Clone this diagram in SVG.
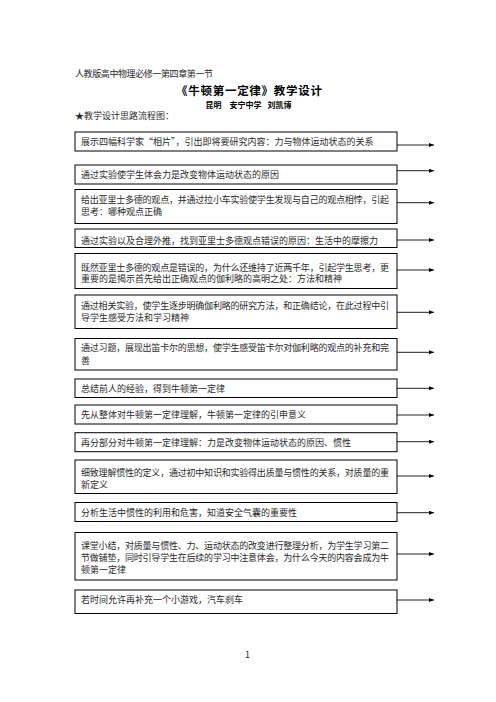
<svg xmlns="http://www.w3.org/2000/svg" width="496" height="702" viewBox="0 0 496 702">
<defs>
<style>
.t{font-family:"Noto Sans CJK SC","Liberation Serif",serif;font-size:9px;fill:#2a2a2a}
.a{font-family:"Noto Sans CJK SC",sans-serif;font-size:8px;font-weight:bold;fill:#000}
.b{fill:#fff;stroke:#000;stroke-width:1}
.c line{stroke:#222;stroke-width:1}
</style>
<marker id="ah" markerUnits="userSpaceOnUse" markerWidth="6" markerHeight="5" refX="5" refY="2" orient="auto"><path d="M0,0L5,2L0,4z" fill="#000"/></marker>
</defs>
<rect width="496" height="702" fill="#fff"/>
<g id="header">
<text class="t" x="75" y="77" font-size="8.7" textLength="138" lengthAdjust="spacing">人教版高中物理必修一第四章第一节</text>
<text x="249" y="94.5" text-anchor="middle" font-family="'Noto Sans CJK SC',sans-serif" font-size="11.5" font-weight="bold" fill="#000" textLength="146" lengthAdjust="spacing">《牛顿第一定律》教学设计</text>
<text class="a" x="205.5" y="107.5">昆明</text>
<text class="a" x="229.5" y="107.5">安宁中学</text>
<text class="a" x="267.5" y="107.5">刘凯博</text>
<text class="t" x="75" y="118.8">★教学设计思路流程图：</text>
</g>
<g id="connectors" class="c">
<line x1="397" y1="145" x2="434" y2="145" marker-end="url(#ah)"/>
<line x1="397" y1="170.7" x2="434" y2="170.7" marker-end="url(#ah)"/>
<line x1="397" y1="202.7" x2="434" y2="202.7" marker-end="url(#ah)"/>
<line x1="397" y1="240" x2="434" y2="240" marker-end="url(#ah)"/>
<line x1="397" y1="270" x2="434" y2="270" marker-end="url(#ah)"/>
<line x1="397" y1="312.3" x2="434" y2="312.3" marker-end="url(#ah)"/>
<line x1="397" y1="352.3" x2="434" y2="352.3" marker-end="url(#ah)"/>
<line x1="397" y1="388.3" x2="434" y2="388.3" marker-end="url(#ah)"/>
<line x1="397" y1="415" x2="434" y2="415" marker-end="url(#ah)"/>
<line x1="397" y1="441.7" x2="434" y2="441.7" marker-end="url(#ah)"/>
<line x1="397" y1="476" x2="434" y2="476" marker-end="url(#ah)"/>
<line x1="397" y1="512.7" x2="434" y2="512.7" marker-end="url(#ah)"/>
<line x1="397" y1="554" x2="434" y2="554" marker-end="url(#ah)"/>
<line x1="397" y1="600" x2="434" y2="600" marker-end="url(#ah)"/>
</g>
<g id="n1"><rect class="b" x="75" y="132" width="322" height="19"/><text class="t" x="81" y="144.5">展示四幅科学家“相片”，引出即将要研究内容：力与物体运动状态的关系</text></g>
<g id="n2"><rect class="b" x="75" y="165" width="322" height="19"/><text class="t" x="81" y="178">通过实验使学生体会力是改变物体运动状态的原因</text></g>
<g id="n3"><rect class="b" x="75" y="189.5" width="322" height="34"/><text class="t" x="81" y="202.6" textLength="308" lengthAdjust="spacing">给出亚里士多德的观点，并通过拉小车实验使学生发现与自己的观点相悖，引起</text><text class="t" x="81" y="215">思考：哪种观点正确</text></g>
<g id="n4"><rect class="b" x="75" y="229" width="322" height="18.5"/><text class="t" x="81" y="243.6">通过实验以及合理外推，找到亚里士多德观点错误的原因：生活中的摩擦力</text></g>
<g id="n5"><rect class="b" x="75" y="253.5" width="322" height="35"/><text class="t" x="81" y="270.5" textLength="308" lengthAdjust="spacing">既然亚里士多德的观点是错误的，为什么还维持了近两千年，引起学生思考，更</text><text class="t" x="81" y="282">重要的是揭示首先给出正确观点的伽利略的高明之处：方法和精神</text></g>
<g id="n6"><rect class="b" x="75" y="295" width="322" height="33.5"/><text class="t" x="81" y="309" textLength="308" lengthAdjust="spacing">通过相关实验，使学生逐步明确伽利略的研究方法，和正确结论，在此过程中引</text><text class="t" x="81" y="321">导学生感受方法和学习精神</text></g>
<g id="n7"><rect class="b" x="75" y="338.5" width="322" height="31.5"/><text class="t" x="81" y="351" textLength="308" lengthAdjust="spacing">通过习题，展现出笛卡尔的思想，使学生感受笛卡尔对伽利略的观点的补充和完</text><text class="t" x="81" y="363.5">善</text></g>
<g id="n8"><rect class="b" x="75" y="379" width="322" height="18.5"/><text class="t" x="81" y="391.6">总结前人的经验，得到牛顿第一定律</text></g>
<g id="n9"><rect class="b" x="75" y="405" width="322" height="19"/><text class="t" x="81" y="418.3">先从整体对牛顿第一定律理解，牛顿第一定律的引申意义</text></g>
<g id="n10"><rect class="b" x="75" y="432.7" width="322" height="19"/><text class="t" x="81" y="445.6">再分部分对牛顿第一定律理解：力是改变物体运动状态的原因、惯性</text></g>
<g id="n11"><rect class="b" x="75" y="460" width="322" height="33.5"/><text class="t" x="81" y="475.6" textLength="308" lengthAdjust="spacing">细致理解惯性的定义，通过初中知识和实验得出质量与惯性的关系，对质量的重</text><text class="t" x="81" y="487.6">新定义</text></g>
<g id="n12"><rect class="b" x="75" y="502.5" width="322" height="19"/><text class="t" x="81" y="515.6">分析生活中惯性的利用和危害，知道安全气囊的重要性</text></g>
<g id="n13"><rect class="b" x="75" y="532.5" width="322" height="47.5"/><text class="t" x="81" y="549.3" textLength="308" lengthAdjust="spacing">课堂小结，对质量与惯性、力、运动状态的改变进行整理分析，为学生学习第二</text><text class="t" x="81" y="561" textLength="308" lengthAdjust="spacing">节做铺垫，同时引导学生在后续的学习中注意体会，为什么今天的内容会成为牛</text><text class="t" x="81" y="572.6">顿第一定律</text></g>
<g id="n14"><rect class="b" x="75" y="590" width="322" height="23.5"/><text class="t" x="81" y="603.3">若时间允许再补充一个小游戏，汽车刹车</text></g>
<text class="t" x="247.5" y="657.5" font-size="7" text-anchor="middle">1</text>
</svg>
